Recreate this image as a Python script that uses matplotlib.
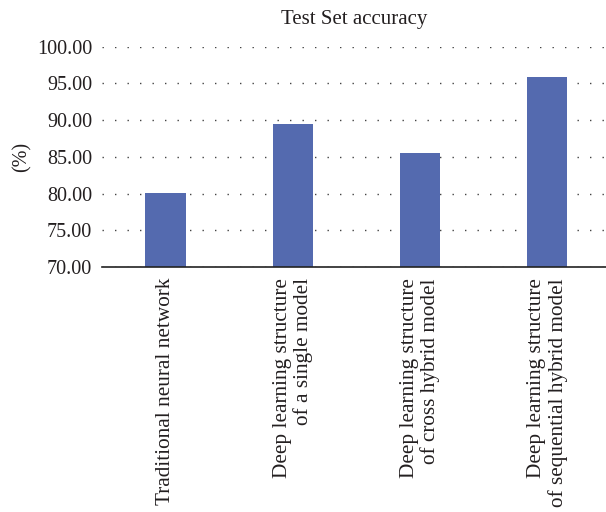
import matplotlib
matplotlib.use("Agg")
import matplotlib.pyplot as plt

categories = [
    "Traditional neural network",
    "Deep learning structure\nof a single model",
    "Deep learning structure\nof cross hybrid model",
    "Deep learning structure\nof sequential hybrid model",
]
accuracy = [80.05, 89.45, 85.5, 95.85]
yticks = [70, 75, 80, 85, 90, 95, 100]

text_color = "#231f20"
bar_color = "#546aaf"

plt.rcParams["font.family"] = ["Liberation Serif", "DejaVu Serif"]

fig = plt.figure(figsize=(6.06, 5.12), dpi=100)
ax = fig.add_axes([0.168, 0.4785, 0.832, 0.4305])

x = list(range(len(categories)))
ax.bar(x, accuracy, width=0.315, color=bar_color, zorder=3)

ax.set_ylim(70, 100)
ax.set_xlim(-0.5, 3.46)
ax.set_yticks(yticks)
ax.set_yticklabels([f"{v:.2f}" for v in yticks], fontsize=14.5, color=text_color)
ax.set_xticks(x)
ax.set_xticklabels(categories, rotation=90, fontsize=15.3, color=text_color,
                   ha="center", va="top", multialignment="right",
                   linespacing=1.1)
ax.tick_params(axis="y", length=0, pad=7)
ax.tick_params(axis="x", length=0, pad=8)

ax.yaxis.grid(True, color="#444444", linewidth=1.0, linestyle=(0, (1, 8)), zorder=0)
ax.set_axisbelow(True)

for side in ("left", "right", "top"):
    ax.spines[side].set_visible(False)
ax.spines["bottom"].set_color("#222222")
ax.spines["bottom"].set_linewidth(1.2)
ax.spines["bottom"].set_zorder(4)

ax.set_title("Test Set accuracy", fontsize=15, color=text_color, pad=16)
ax.set_ylabel("(%)", fontsize=14.5, color=text_color, labelpad=4)

fig.savefig("out.png", dpi=100)
